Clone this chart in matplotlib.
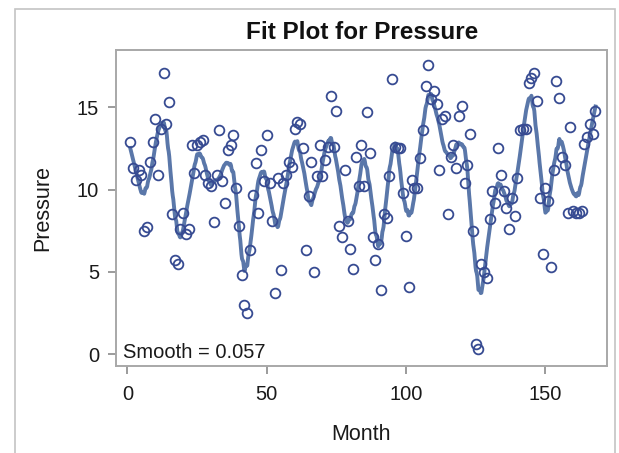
import numpy as np
import matplotlib
matplotlib.use("Agg")
import matplotlib.pyplot as plt
from matplotlib.patches import Rectangle

plt.rcParams["font.family"] = ["Liberation Sans", "DejaVu Sans"]

# ENSO pressure series, one value per month (1..168)
month = np.arange(1, 169)
pressure = [
    12.9, 11.3, 10.6, 11.2, 10.9, 7.5, 7.7, 11.7, 12.9, 14.3,
    10.9, 13.7, 17.1, 14.0, 15.3, 8.5, 5.7, 5.5, 7.6, 8.6,
    7.3, 7.6, 12.7, 11.0, 12.7, 12.9, 13.0, 10.9, 10.4, 10.2,
    8.0, 10.9, 13.6, 10.5, 9.2, 12.4, 12.7, 13.3, 10.1, 7.8,
    4.8, 3.0, 2.5, 6.3, 9.7, 11.6, 8.6, 12.4, 10.5, 13.3,
    10.4, 8.1, 3.7, 10.7, 5.1, 10.4, 10.9, 11.7, 11.4, 13.7,
    14.1, 14.0, 12.5, 6.3, 9.6, 11.7, 5.0, 10.8, 12.7, 10.8,
    11.8, 12.6, 15.7, 12.6, 14.8, 7.8, 7.1, 11.2, 8.1, 6.4,
    5.2, 12.0, 10.2, 12.7, 10.2, 14.7, 12.2, 7.1, 5.7, 6.7,
    3.9, 8.5, 8.3, 10.8, 16.7, 12.6, 12.5, 12.5, 9.8, 7.2,
    4.1, 10.6, 10.1, 10.1, 11.9, 13.6, 16.3, 17.6, 15.5, 16.0,
    15.2, 11.2, 14.3, 14.5, 8.5, 12.0, 12.7, 11.3, 14.5, 15.1,
    10.4, 11.5, 13.4, 7.5, 0.6, 0.3, 5.5, 5.0, 4.6, 8.2,
    9.9, 9.2, 12.5, 10.9, 9.9, 8.9, 7.6, 9.5, 8.4, 10.7,
    13.6, 13.7, 13.7, 16.5, 16.8, 17.1, 15.4, 9.5, 6.1, 10.1,
    9.3, 5.3, 11.2, 16.6, 15.6, 12.0, 11.5, 8.6, 13.8, 8.7,
    8.6, 8.6, 8.7, 12.8, 13.2, 14.0, 13.4, 14.8,
]
smooth = 0.057


def loess(x, y, xs, span, degree=1):
    """Local polynomial fit with tricube weights (plain, no kd-tree)."""
    x = np.asarray(x, float)
    y = np.asarray(y, float)
    q = max(int(np.floor(span * len(x))), degree + 1)
    out = np.empty(len(xs))
    for i, x0 in enumerate(xs):
        d = np.abs(x - x0)
        h = np.sort(d)[q - 1]
        if h <= 0:
            h = 1e-9
        h = h * 1.0001
        w = np.clip(1 - (d / h) ** 3, 0, None) ** 3
        X = np.vander(x - x0, degree + 1, increasing=True)
        W = np.sqrt(w)
        beta = np.linalg.lstsq(X * W[:, None], y * W, rcond=None)[0]
        out[i] = beta[0]
    return out


grid = np.linspace(month.min(), month.max(), 800)
fit = loess(month, pressure, grid, smooth)

fig = plt.figure(figsize=(6.19, 4.53), dpi=100)
ax = fig.add_axes([0.187, 0.192, 0.793, 0.698])

ax.plot(grid, fit, color="#5a77a9", lw=2.8, zorder=2)
ax.plot(month, pressure, "o", mfc="none", mec="#374b92", ms=7, mew=1.3,
        zorder=3)

ax.set_xlim(-4.2, 172)
ax.set_ylim(-0.73, 18.5)
ax.set_xticks([0, 50, 100, 150])
ax.set_yticks([0, 5, 10, 15])
for s in ax.spines.values():
    s.set_color("#a8a8a8")
    s.set_linewidth(1.4)
ax.tick_params(colors="#8a8a8a", labelcolor="#1a1a1a", labelsize=14.5,
               length=6, width=1.2)
ax.tick_params(axis="x", pad=8)
ax.tick_params(axis="y", pad=6)

ax.set_xlabel("Month", fontsize=15.5, color="#1a1a1a", labelpad=14)
ax.set_ylabel("Pressure", fontsize=15.5, color="#1a1a1a", labelpad=17)
ax.text(0.014, 0.012, f"Smooth = {smooth}", transform=ax.transAxes,
        fontsize=14.5, color="#1a1a1a", ha="left", va="bottom")

fig.text(0.585, 0.928, "Fit Plot for Pressure", fontsize=17.5,
         fontweight="bold", ha="center", va="center", color="#111111")

# thin grey outer frame of the graph
fig.patches.append(Rectangle((15 / 619, -0.1), (615 - 15) / 619, 1.1 - 9 / 453,
                             transform=fig.transFigure, fill=False,
                             edgecolor="#c4c4c4", lw=1.2))

fig.savefig("out.png", dpi=100)
